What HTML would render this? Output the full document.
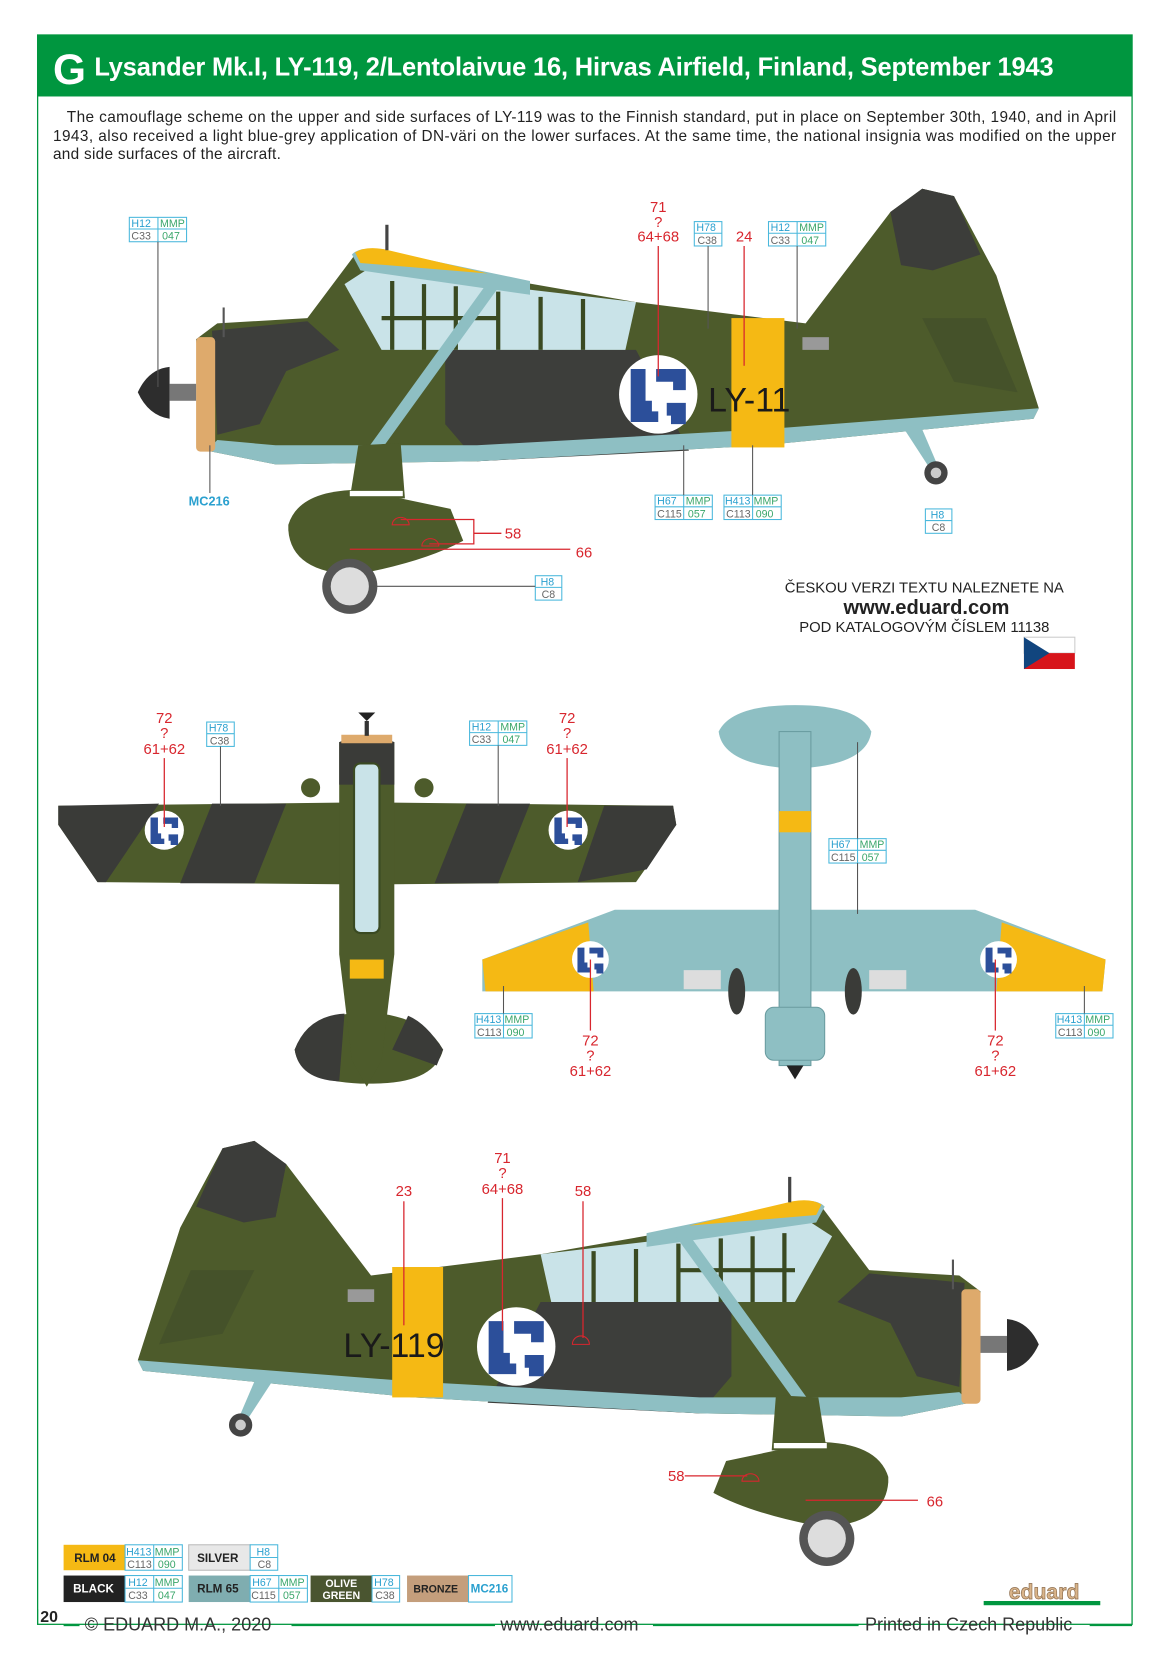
<!DOCTYPE html>
<html><head><meta charset="utf-8"><style>
html,body{margin:0;padding:0;background:#fff;width:1166px;height:1654px;overflow:hidden}
svg{display:block}
text{font-family:"Liberation Sans Narrow","Liberation Sans",sans-serif}
.r{fill:#d8262e;font-size:14px;text-anchor:middle}
.bl{fill:#2aa0cf;font-size:10px}
.gn{fill:#3aa66a;font-size:10px}
.gy{fill:#666;font-size:10px}
.bx{fill:#fff;stroke:#4ab8dc;stroke-width:1}
.ln{stroke:#555;stroke-width:1}
.rl{stroke:#d8262e;stroke-width:1.2}
</style></head><body>
<svg width="1166" height="1654" viewBox="0 0 1100 1560" preserveAspectRatio="none" xmlns="http://www.w3.org/2000/svg">
<defs>
<g id="roundel">
 <circle r="37" fill="#fff"/>
 <path d="M-26,-24 h14 v30 h6 v14 h-20 Z M-2,-24 h28 v20 h-12 v-8 h-16 Z M8,8 h18 v20 h-14 v-8 h-4 Z M-26,16 h26 v10 h-26 Z" fill="#2c4f9a"/>
</g>
<g id="side">
 <path d="M185,320 L205,305 L290,300 L335,240 L400,250 L600,285 L760,305 L840,200 L870,178 L900,185 L940,260 L980,385 L975,395 L720,420 L450,435 L260,438 L195,425 Z" fill="#4d5b2b"/>
 <path d="M840,200 L870,178 L900,185 L925,240 L880,255 L850,250 Z" fill="#3c3d3a"/>
 <path d="M870,300 L930,300 L960,370 L900,360 Z" fill="#45522a"/>
 <path d="M420,330 L600,330 L650,425 L450,435 L420,400 Z" fill="#3d3e3b"/>
 <path d="M200,312 L290,303 L320,330 L270,350 L245,400 L205,410 Z" fill="#3d3e3b"/>
 <path d="M195,425 L260,438 L450,435 L720,420 L975,395 L980,385 L720,405 L450,420 L260,420 L205,415 Z" fill="#8ebfc3"/>
 <path d="M325,268 L345,255 L600,285 L590,330 L360,330 Z" fill="#c9e3e8"/>
 <g stroke="#3a4a22" stroke-width="4">
  <line x1="370" y1="265" x2="370" y2="330"/><line x1="400" y1="268" x2="400" y2="330"/>
  <line x1="430" y1="270" x2="430" y2="330"/><line x1="470" y1="275" x2="470" y2="330"/>
  <line x1="510" y1="280" x2="510" y2="330"/><line x1="550" y1="282" x2="550" y2="330"/>
  <line x1="360" y1="300" x2="470" y2="300"/>
 </g>
 <path d="M332,240 Q340,232 360,236 L500,265 L500,278 L340,255 Z" fill="#8ebfc3"/>
 <path d="M335,238 Q345,232 362,235 L460,258 L340,248 Z" fill="#f5b914"/>
 <line x1="365" y1="212" x2="365" y2="236" stroke="#444" stroke-width="3"/>
 <line x1="345" y1="435" x2="470" y2="262" stroke="#8ebfc3" stroke-width="11"/>
 <path d="M338,420 L378,418 L382,470 L330,470 Z" fill="#4d5b2b"/>
 <path d="M272,495 Q282,462 340,462 L425,480 L437,510 Q400,530 335,542 Q275,540 272,500 Z" fill="#4d5b2b"/>
 <rect x="330" y="463" width="50" height="5" fill="#fff"/>
 <circle cx="330" cy="553" r="26" fill="#555"/><circle cx="330" cy="553" r="18" fill="#ddd"/>
 <rect x="185" y="318" width="18" height="108" rx="4" fill="#deaa6c"/>
 <path d="M130,370 Q140,348 160,346 L160,395 Q140,392 130,370 Z" fill="#2d2d2d"/>
 <rect x="160" y="362" width="25" height="16" fill="#777"/>
 <line x1="211" y1="290" x2="211" y2="318" stroke="#555" stroke-width="2"/>
 <path d="M850,400 L870,405 L885,440 L878,443 Z" fill="#8ebfc3"/>
 <circle cx="883" cy="446" r="11" fill="#444"/><circle cx="883" cy="446" r="5" fill="#ccc"/>
 <rect x="757" y="318" width="25" height="12" fill="#999"/>
</g>
</defs>

<!-- header -->
<rect x="35" y="33" width="1033" height="58" fill="#00963f"/>
<rect x="35.5" y="33" width="1032.5" height="1499" fill="none" stroke="#00963f" stroke-width="1.2"/>
<text x="50" y="79" fill="#fff" font-size="40" font-weight="bold" style="font-family:'Liberation Sans',sans-serif">G</text>
<text x="89" y="71" fill="#fff" font-size="24" font-weight="bold" textLength="905" style="font-family:'Liberation Sans',sans-serif">Lysander Mk.I, LY-119, 2/Lentolaivue 16, Hirvas Airfield, Finland, September 1943</text>
<g font-size="14.5" fill="#222" style="font-family:'Liberation Sans',sans-serif">
<text x="63" y="115" textLength="990">The camouflage scheme on the upper and side surfaces of LY-119 was to the Finnish standard, put in place on September 30th, 1940, and in April</text>
<text x="50" y="133" textLength="1003">1943, also received a light blue-grey application of DN-väri on the lower surfaces. At the same time, the national insignia was modified on the upper</text>
<text x="50" y="150" textLength="215">and side surfaces of the aircraft.</text>
</g>

<!-- side view 1 -->
<use href="#side"/>
<rect x="690" y="300" width="50" height="122" fill="#f5b914"/>
<use href="#roundel" x="621" y="372"/>
<text x="668" y="388" font-size="32" fill="#1a1a1a" style="font-family:'Liberation Sans',sans-serif">LY-11</text>

<!-- side view 2 -->
<use href="#side" transform="translate(1110,898) scale(-1,1)"/>
<rect x="370" y="1195" width="48" height="123" fill="#f5b914"/>
<use href="#roundel" x="487" y="1270"/>
<text x="324" y="1280" font-size="32" fill="#1a1a1a" style="font-family:'Liberation Sans',sans-serif">LY-119</text>
<path d="M540,1268 a8,8 0 0 1 16,0 Z" fill="none" stroke="#d8262e"/>

<!-- top view -->
<path d="M55,760 L320,757 L372,757 L635,760 L638,778 L600,832 L372,834 L320,834 L92,832 L55,778 Z" fill="#4d5b2b"/>
<path d="M55,760 L150,758 L100,832 L92,832 L55,778 Z M200,758 L270,758 L240,833 L170,833 Z M440,758 L500,758 L470,833 L410,833 Z M570,760 L635,760 L638,778 L610,820 L545,832 Z" fill="#3a3b38"/>
<path d="M278,990 Q290,958 340,955 L352,955 Q402,960 418,990 Q410,1022 352,1022 L340,1022 Q282,1020 278,990 Z" fill="#4d5b2b"/>
<path d="M278,990 Q290,958 325,956 L320,1020 Q282,1018 278,990 Z M385,958 Q402,965 418,990 L412,1005 L370,990 Z" fill="#3a3b38"/>
<path d="M320,700 Q346,690 372,700 L372,900 L360,1000 L346,1025 L332,1000 L320,900 Z" fill="#4d5b2b"/>
<path d="M320,700 Q346,690 372,700 L372,740 L320,740 Z" fill="#3a3b38"/>
<rect x="322" y="693" width="48" height="8" fill="#deaa6c"/>
<path d="M338,672 L346,680 L354,672 Z" fill="#222"/><rect x="344" y="680" width="4" height="14" fill="#333"/>
<rect x="334" y="720" width="24" height="160" rx="6" fill="#c9e3e8" stroke="#3a4a22" stroke-width="2"/>
<rect x="330" y="905" width="32" height="18" fill="#f5b914"/>
<circle cx="293" cy="743" r="9" fill="#4d5b2b"/><circle cx="400" cy="743" r="9" fill="#4d5b2b"/>
<use href="#roundel" transform="translate(155,783) scale(0.5)"/>
<use href="#roundel" transform="translate(536,783) scale(0.5)"/>

<!-- bottom view -->
<path d="M678,690 Q690,665 750,665 Q810,665 822,690 Q818,722 750,725 Q682,722 678,690 Z" fill="#8ebfc3"/>
<path d="M455,905 L580,858 L920,858 L1043,905 L1040,935 L455,935 Z" fill="#8ebfc3"/>
<path d="M455,905 L555,870 L560,935 L458,935 Z M1043,905 L945,870 L940,935 L1040,935 Z" fill="#f5b914"/>
<rect x="735" y="690" width="30" height="315" fill="#8ebfc3" stroke="#6a9ca0"/>
<rect x="735" y="765" width="30" height="20" fill="#f5b914"/>
<rect x="722" y="950" width="56" height="50" rx="8" fill="#8ebfc3" stroke="#6a9ca0"/>
<path d="M742,1005 L758,1005 L750,1018 Z" fill="#222"/>
<ellipse cx="695" cy="935" rx="8" ry="22" fill="#3a3b38"/><ellipse cx="805" cy="935" rx="8" ry="22" fill="#3a3b38"/>
<rect x="645" y="915" width="35" height="18" fill="#ddd"/><rect x="820" y="915" width="35" height="18" fill="#ddd"/>
<use href="#roundel" transform="translate(557,905) scale(0.47)"/>
<use href="#roundel" transform="translate(942,905) scale(0.47)"/>

<!-- label boxes -->
<g>
 <rect class="bx" x="122" y="205" width="54" height="23"/><line x1="149" y1="205" x2="149" y2="228" stroke="#4ab8dc"/><line x1="122" y1="216" x2="176" y2="216" stroke="#4ab8dc"/>
 <text class="bl" x="124" y="214">H12</text><text class="gn" x="151" y="214">MMP</text><text class="gy" x="124" y="226">C33</text><text class="gn" x="153" y="226">047</text>
 <line class="ln" x1="149" y1="228" x2="149" y2="365"/>
 <rect class="bx" x="725" y="209" width="54" height="23"/><line x1="752" y1="209" x2="752" y2="232" stroke="#4ab8dc"/><line x1="725" y1="220" x2="779" y2="220" stroke="#4ab8dc"/>
 <text class="bl" x="727" y="218">H12</text><text class="gn" x="754" y="218">MMP</text><text class="gy" x="727" y="230">C33</text><text class="gn" x="756" y="230">047</text>
 <line class="ln" x1="752" y1="232" x2="752" y2="310"/>
 <rect class="bx" x="655" y="209" width="26" height="23"/><line x1="655" y1="220" x2="681" y2="220" stroke="#4ab8dc"/>
 <text class="bl" x="657" y="218">H78</text><text class="gy" x="658" y="230">C38</text>
 <line class="ln" x1="668" y1="232" x2="668" y2="310"/>
 <text class="r" x="621" y="200">71</text><text class="r" x="621" y="214">?</text><text class="r" x="621" y="228">64+68</text>
 <line class="rl" x1="621" y1="232" x2="621" y2="355"/>
 <text class="r" x="702" y="228">24</text><line class="rl" x1="702" y1="232" x2="702" y2="345"/>
 <rect class="bx" x="618" y="467" width="54" height="23"/><line x1="645" y1="467" x2="645" y2="490" stroke="#4ab8dc"/><line x1="618" y1="478" x2="672" y2="478" stroke="#4ab8dc"/>
 <text class="bl" x="620" y="476">H67</text><text class="gn" x="647" y="476">MMP</text><text class="gy" x="620" y="488">C115</text><text class="gn" x="649" y="488">057</text>
 <line class="ln" x1="645" y1="420" x2="645" y2="467"/>
 <rect class="bx" x="683" y="467" width="54" height="23"/><line x1="710" y1="467" x2="710" y2="490" stroke="#4ab8dc"/><line x1="683" y1="478" x2="737" y2="478" stroke="#4ab8dc"/>
 <text class="bl" x="684" y="476">H413</text><text class="gn" x="711" y="476">MMP</text><text class="gy" x="685" y="488">C113</text><text class="gn" x="713" y="488">090</text>
 <line class="ln" x1="710" y1="420" x2="710" y2="467"/>
 <rect class="bx" x="873" y="480" width="25" height="23"/><line x1="873" y1="491" x2="898" y2="491" stroke="#4ab8dc"/>
 <text class="bl" x="878" y="489">H8</text><text class="gy" x="879" y="501">C8</text>
 <rect class="bx" x="505" y="543" width="25" height="23"/><line x1="505" y1="554" x2="530" y2="554" stroke="#4ab8dc"/>
 <text class="bl" x="510" y="552">H8</text><text class="gy" x="511" y="564">C8</text>
 <line class="ln" x1="350" y1="553" x2="505" y2="553"/>
 <text x="178" y="477" fill="#2aa0cf" font-size="12" font-weight="bold">MC216</text>
 <line class="ln" x1="198" y1="420" x2="198" y2="465"/>
 <path d="M370,495 a8,7 0 0 1 16,0 Z M398,515 a8,7 0 0 1 16,0 Z" fill="none" stroke="#d8262e"/>
 <path class="rl" d="M378,490 L447,490 L447,513 L405,513 M447,503 L473,503" fill="none"/>
 <text class="r" x="484" y="508">58</text>
 <line class="rl" x1="330" y1="518" x2="538" y2="518"/><text class="r" x="551" y="526">66</text>
</g>

<!-- czech note -->
<g style="font-family:'Liberation Sans',sans-serif" text-anchor="middle">
 <text x="872" y="559" font-size="14" fill="#222">ČESKOU VERZI TEXTU NALEZNETE NA</text>
 <text x="874" y="579" font-size="19" font-weight="bold" fill="#222">www.eduard.com</text>
 <text x="872" y="596" font-size="14" fill="#222">POD KATALOGOVÝM ČÍSLEM 11138</text>
</g>
<rect x="966" y="601" width="48" height="15" fill="#fff" stroke="#ccc"/><rect x="966" y="616" width="48" height="15" fill="#d7141a"/>
<path d="M966,601 L990,616 L966,631 Z" fill="#11457e"/>

<!-- top view labels -->
<text class="r" x="155" y="682">72</text><text class="r" x="155" y="696">?</text><text class="r" x="155" y="711">61+62</text>
<line class="rl" x1="155" y1="715" x2="155" y2="780"/>
<rect class="bx" x="195" y="681" width="26" height="23"/><line x1="195" y1="692" x2="221" y2="692" stroke="#4ab8dc"/>
<text class="bl" x="197" y="690">H78</text><text class="gy" x="198" y="702">C38</text>
<line class="ln" x1="208" y1="704" x2="208" y2="760"/>
<rect class="bx" x="443" y="680" width="54" height="23"/><line x1="470" y1="680" x2="470" y2="703" stroke="#4ab8dc"/><line x1="443" y1="691" x2="497" y2="691" stroke="#4ab8dc"/>
<text class="bl" x="445" y="689">H12</text><text class="gn" x="472" y="689">MMP</text><text class="gy" x="445" y="701">C33</text><text class="gn" x="474" y="701">047</text>
<line class="ln" x1="470" y1="703" x2="470" y2="760"/>
<text class="r" x="535" y="682">72</text><text class="r" x="535" y="696">?</text><text class="r" x="535" y="711">61+62</text>
<line class="rl" x1="535" y1="715" x2="535" y2="780"/>

<!-- bottom view labels -->
<rect class="bx" x="782" y="791" width="54" height="23"/><line x1="809" y1="791" x2="809" y2="814" stroke="#4ab8dc"/><line x1="782" y1="802" x2="836" y2="802" stroke="#4ab8dc"/>
<text class="bl" x="784" y="800">H67</text><text class="gn" x="811" y="800">MMP</text><text class="gy" x="784" y="812">C115</text><text class="gn" x="813" y="812">057</text>
<line class="ln" x1="809" y1="700" x2="809" y2="791"/><line class="ln" x1="809" y1="814" x2="809" y2="862"/>
<rect class="bx" x="448" y="956" width="54" height="23"/><line x1="475" y1="956" x2="475" y2="979" stroke="#4ab8dc"/><line x1="448" y1="967" x2="502" y2="967" stroke="#4ab8dc"/>
<text class="bl" x="449" y="965">H413</text><text class="gn" x="476" y="965">MMP</text><text class="gy" x="450" y="977">C113</text><text class="gn" x="478" y="977">090</text>
<line class="ln" x1="475" y1="930" x2="475" y2="956"/>
<rect class="bx" x="996" y="956" width="54" height="23"/><line x1="1023" y1="956" x2="1023" y2="979" stroke="#4ab8dc"/><line x1="996" y1="967" x2="1050" y2="967" stroke="#4ab8dc"/>
<text class="bl" x="997" y="965">H413</text><text class="gn" x="1024" y="965">MMP</text><text class="gy" x="998" y="977">C113</text><text class="gn" x="1026" y="977">090</text>
<line class="ln" x1="1023" y1="930" x2="1023" y2="956"/>
<text class="r" x="557" y="986">72</text><text class="r" x="557" y="1000">?</text><text class="r" x="557" y="1015">61+62</text>
<line class="rl" x1="557" y1="905" x2="557" y2="972"/>
<text class="r" x="939" y="986">72</text><text class="r" x="939" y="1000">?</text><text class="r" x="939" y="1015">61+62</text>
<line class="rl" x1="939" y1="905" x2="939" y2="972"/>

<!-- side 2 labels -->
<text class="r" x="381" y="1128">23</text><line class="rl" x1="381" y1="1133" x2="381" y2="1250"/>
<text class="r" x="474" y="1097">71</text><text class="r" x="474" y="1111">?</text><text class="r" x="474" y="1126">64+68</text>
<line class="rl" x1="474" y1="1130" x2="474" y2="1255"/>
<text class="r" x="550" y="1128">58</text><line class="rl" x1="550" y1="1133" x2="550" y2="1262"/>
<text class="r" x="638" y="1397">58</text><line class="rl" x1="646" y1="1392" x2="705" y2="1392"/>
<path d="M700,1397 a8,7 0 0 1 16,0 Z" fill="none" stroke="#d8262e"/>
<line class="rl" x1="760" y1="1415" x2="866" y2="1415"/><text class="r" x="882" y="1421">66</text>

<!-- palette -->
<g font-size="11" font-weight="bold" style="font-family:'Liberation Sans Narrow','Liberation Sans',sans-serif">
 <rect x="60" y="1457" width="58" height="24" fill="#f5b914"/><text x="70" y="1473" fill="#222">RLM 04</text>
 <rect class="bx" x="118" y="1457" width="54" height="24"/><line x1="145" y1="1457" x2="145" y2="1481" stroke="#4ab8dc"/><line x1="118" y1="1469" x2="172" y2="1469" stroke="#4ab8dc"/>
 <text class="bl" x="119" y="1467" font-weight="normal">H413</text><text class="gn" x="146" y="1467" font-weight="normal">MMP</text><text class="gy" x="120" y="1479" font-weight="normal">C113</text><text class="gn" x="149" y="1479" font-weight="normal">090</text>
 <rect x="178" y="1457" width="58" height="24" fill="#e8e8e8" stroke="#bbb"/><text x="186" y="1473" fill="#222">SILVER</text>
 <rect class="bx" x="236" y="1457" width="26" height="24"/><line x1="236" y1="1469" x2="262" y2="1469" stroke="#4ab8dc"/>
 <text class="bl" x="242" y="1467" font-weight="normal">H8</text><text class="gy" x="243" y="1479" font-weight="normal">C8</text>
 <rect x="60" y="1486" width="58" height="25" fill="#222"/><text x="69" y="1502" fill="#fff">BLACK</text>
 <rect class="bx" x="118" y="1486" width="54" height="25"/><line x1="145" y1="1486" x2="145" y2="1511" stroke="#4ab8dc"/><line x1="118" y1="1498" x2="172" y2="1498" stroke="#4ab8dc"/>
 <text class="bl" x="121" y="1496" font-weight="normal">H12</text><text class="gn" x="146" y="1496" font-weight="normal">MMP</text><text class="gy" x="121" y="1508" font-weight="normal">C33</text><text class="gn" x="149" y="1508" font-weight="normal">047</text>
 <rect x="178" y="1486" width="58" height="25" fill="#7fadb0"/><text x="186" y="1502" fill="#222">RLM 65</text>
 <rect class="bx" x="236" y="1486" width="54" height="25"/><line x1="263" y1="1486" x2="263" y2="1511" stroke="#4ab8dc"/><line x1="236" y1="1498" x2="290" y2="1498" stroke="#4ab8dc"/>
 <text class="bl" x="238" y="1496" font-weight="normal">H67</text><text class="gn" x="264" y="1496" font-weight="normal">MMP</text><text class="gy" x="237" y="1508" font-weight="normal">C115</text><text class="gn" x="267" y="1508" font-weight="normal">057</text>
 <rect x="293" y="1486" width="58" height="25" fill="#4a5530"/><text x="322" y="1497" fill="#fff" text-anchor="middle" font-size="10">OLIVE</text><text x="322" y="1508" fill="#fff" text-anchor="middle" font-size="10">GREEN</text>
 <rect class="bx" x="351" y="1486" width="26" height="25"/><line x1="351" y1="1498" x2="377" y2="1498" stroke="#4ab8dc"/>
 <text class="bl" x="353" y="1496" font-weight="normal">H78</text><text class="gy" x="354" y="1508" font-weight="normal">C38</text>
 <rect x="384" y="1486" width="58" height="25" fill="#c49e7c"/><text x="390" y="1502" fill="#222" font-size="10">BRONZE</text>
 <rect class="bx" x="442" y="1486" width="41" height="25"/><text x="444" y="1502" fill="#2aa0cf">MC216</text>
</g>
<text x="985" y="1508" text-anchor="middle" font-size="20" font-weight="bold" fill="#d9b48a" stroke="#8a6a4a" stroke-width="0.6" style="font-family:'Liberation Sans',sans-serif">eduard</text>
<rect x="928" y="1510" width="110" height="4" fill="#00963f"/>

<!-- footer -->
<rect x="35" y="1518" width="1" height="14" fill="#00963f"/>
<text x="38" y="1530" font-size="15" font-weight="bold" fill="#222">20</text>
<g font-size="17" fill="#333" style="font-family:'Liberation Sans',sans-serif">
 <text x="80" y="1538">© EDUARD M.A., 2020</text>
 <text x="472" y="1538">www.eduard.com</text>
 <text x="816" y="1538">Printed in Czech Republic</text>
</g>
<g stroke="#00963f" stroke-width="1.5">
 <line x1="60" y1="1533" x2="75" y2="1533"/><line x1="275" y1="1533" x2="467" y2="1533"/>
 <line x1="616" y1="1533" x2="810" y2="1533"/><line x1="1028" y1="1533" x2="1068" y2="1533"/>
</g>
</svg>
</body></html>
